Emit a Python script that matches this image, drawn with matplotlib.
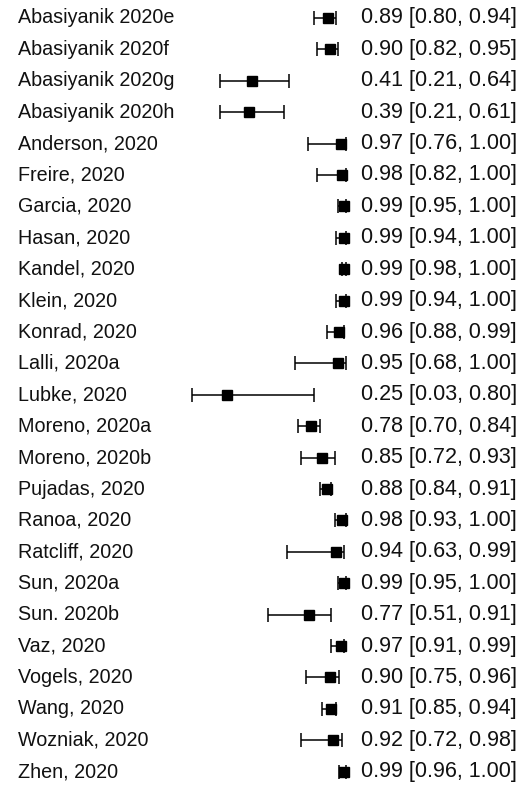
import matplotlib.pyplot as plt
import numpy as np

plt.rcParams['font.family'] = ['Liberation Sans', 'DejaVu Sans']

studies = ['Abasiyanik 2020e', 'Abasiyanik 2020f', 'Abasiyanik 2020g', 'Abasiyanik 2020h',
           'Anderson, 2020', 'Freire, 2020', 'Garcia, 2020', 'Hasan, 2020', 'Kandel, 2020',
           'Klein, 2020', 'Konrad, 2020', 'Lalli, 2020a', 'Lubke, 2020', 'Moreno, 2020a',
           'Moreno, 2020b', 'Pujadas, 2020', 'Ranoa, 2020', 'Ratcliff, 2020', 'Sun, 2020a',
           'Sun. 2020b', 'Vaz, 2020', 'Vogels, 2020', 'Wang, 2020', 'Wozniak, 2020', 'Zhen, 2020']
est = [0.89, 0.90, 0.41, 0.39, 0.97, 0.98, 0.99, 0.99, 0.99, 0.99, 0.96, 0.95, 0.25,
       0.78, 0.85, 0.88, 0.98, 0.94, 0.99, 0.77, 0.97, 0.90, 0.91, 0.92, 0.99]
lower = [0.80, 0.82, 0.21, 0.21, 0.76, 0.82, 0.95, 0.94, 0.98, 0.94, 0.88, 0.68, 0.03,
         0.70, 0.72, 0.84, 0.93, 0.63, 0.95, 0.51, 0.91, 0.75, 0.85, 0.72, 0.96]
upper = [0.94, 0.95, 0.64, 0.61, 1.00, 1.00, 1.00, 1.00, 1.00, 1.00, 0.99, 1.00, 0.80,
         0.84, 0.93, 0.91, 1.00, 0.99, 1.00, 0.91, 0.99, 0.96, 0.94, 0.98, 1.00]

est = np.array(est)
lower = np.array(lower)
upper = np.array(upper)
rows = np.arange(len(studies))

fig = plt.figure(figsize=(5.29, 7.87), dpi=100)
ax = fig.add_axes([0, 0, 1, 1])
ax.set_xlim(-1.182, 2.158)
ax.set_ylim(24.49, -0.573)
ax.axis('off')

# confidence intervals with end caps, point estimates as squares
ax.errorbar(est, rows, xerr=[est - lower, upper - est], fmt='none',
            ecolor='black', elinewidth=1.1, capsize=4.8, capthick=1.1)
ax.plot(est, rows, 's', color='black', markersize=7.3)

for i, name in enumerate(studies):
    ax.text(-1.068, i, name, fontsize=14.2, va='center', ha='left', color='#111111')
    ax.text(1.1, i, f'{est[i]:.2f} [{lower[i]:.2f}, {upper[i]:.2f}]',
            fontsize=15.5, va='center', ha='left', color='#111111')

fig.savefig('out.png', dpi=100)
